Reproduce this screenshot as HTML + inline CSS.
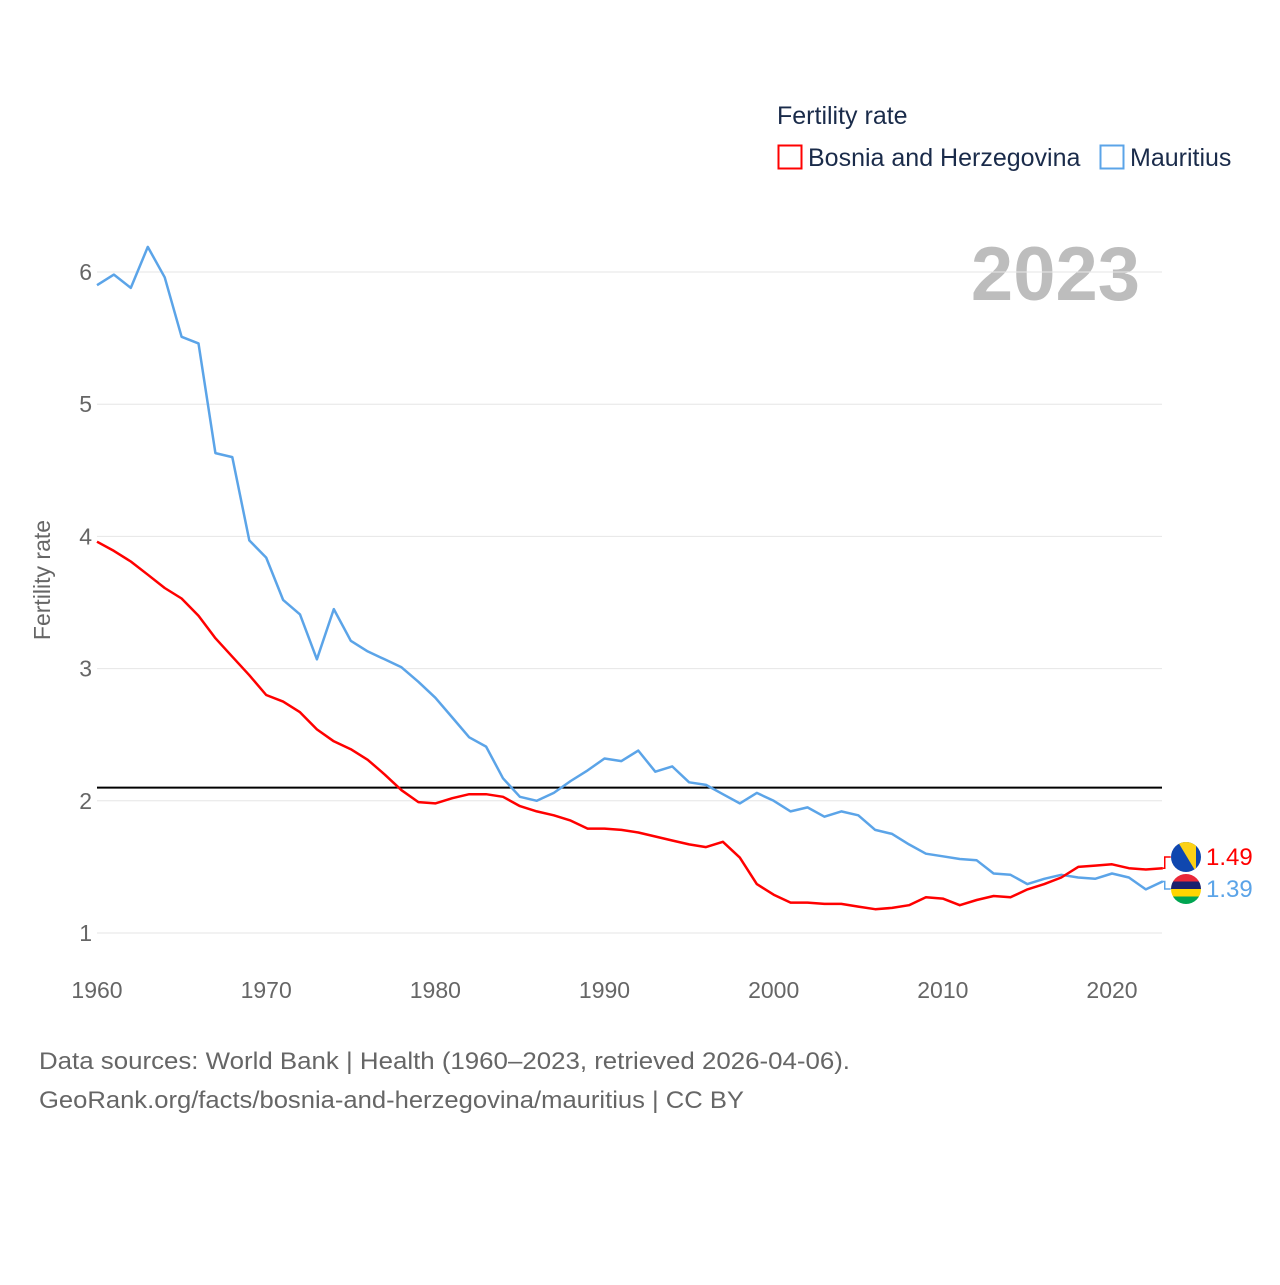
<!DOCTYPE html>
<html><head><meta charset="utf-8"><style>
body{margin:0;background:#fff;font-family:"Liberation Sans",sans-serif;}
svg text{font-family:"Liberation Sans",sans-serif;}
</style></head><body>
<svg id="chart" width="1280" height="1280" viewBox="0 0 1280 1280" xmlns="http://www.w3.org/2000/svg">
<g>
<text x="777" y="124" font-size="25" fill="#1a2b4a">Fertility rate</text>
<rect x="778.5" y="145.5" width="23" height="23" fill="none" stroke="#ff0000" stroke-width="2"/>
<text x="808" y="166" font-size="25" fill="#1a2b4a">Bosnia and Herzegovina</text>
<rect x="1100.5" y="145.5" width="23" height="23" fill="none" stroke="#5ba4e8" stroke-width="2"/>
<text x="1130" y="166" font-size="25" fill="#1a2b4a">Mauritius</text>
</g>
<text x="1140" y="300" font-size="76" font-weight="bold" fill="#bdbdbd" text-anchor="end">2023</text>
<g id="grid"></g>
<g id="yticks"></g>
<g id="xticks"></g>
<text transform="translate(50,580) rotate(-90)" font-size="23" fill="#666" text-anchor="middle">Fertility rate</text>
<g id="series"></g>
<g id="labels"></g>
<text x="39" y="1069" font-size="24" fill="#666" textLength="811" lengthAdjust="spacingAndGlyphs">Data sources: World Bank | Health (1960–2023, retrieved 2026-04-06).</text>
<text x="39" y="1108" font-size="24" fill="#666" textLength="705" lengthAdjust="spacingAndGlyphs">GeoRank.org/facts/bosnia-and-herzegovina/mauritius | CC BY</text>
</svg>
<script>
const startYear = 1960;
const bosnia = [3.96,3.89,3.81,3.71,3.61,3.53,3.40,3.23,3.09,2.95,2.80,2.75,2.67,2.54,2.45,2.39,2.31,2.20,2.08,1.99,1.98,2.02,2.05,2.05,2.03,1.96,1.92,1.89,1.85,1.79,1.79,1.78,1.76,1.73,1.70,1.67,1.65,1.69,1.57,1.37,1.29,1.23,1.23,1.22,1.22,1.20,1.18,1.19,1.21,1.27,1.26,1.21,1.25,1.28,1.27,1.33,1.37,1.42,1.50,1.51,1.52,1.49,1.48,1.49];
const mauritius = [5.90,5.98,5.88,6.19,5.96,5.51,5.46,4.63,4.60,3.97,3.84,3.52,3.41,3.07,3.45,3.21,3.13,3.07,3.01,2.90,2.78,2.63,2.48,2.41,2.17,2.03,2.00,2.06,2.15,2.23,2.32,2.30,2.38,2.22,2.26,2.14,2.12,2.05,1.98,2.06,2.00,1.92,1.95,1.88,1.92,1.89,1.78,1.75,1.67,1.60,1.58,1.56,1.55,1.45,1.44,1.37,1.41,1.44,1.42,1.41,1.45,1.42,1.33,1.39];
const yTicks = [1,2,3,4,5,6];
const xTicks = [1960,1970,1980,1990,2000,2010,2020];
const replacement = 2.1;
const endLabels = ["1.49","1.39"];

const NS="http://www.w3.org/2000/svg";
const x = yr => 97 + (yr-1960)*(1112-97)/60;
const y = v => 933 - (v-1)*(933-272)/5;
function mk(tag, attrs, parent){const e=document.createElementNS(NS,tag);for(const k in attrs)e.setAttribute(k,attrs[k]);parent.appendChild(e);return e;}
const grid=document.getElementById('grid'), yt=document.getElementById('yticks'), xt=document.getElementById('xticks');
yTicks.forEach(t=>{
  const l=mk('line',{x1:97,x2:1162,y1:y(t),y2:y(t),stroke:'#e6e6e6','stroke-width':1},grid);
  
  
  const tx=mk('text',{x:92,y:y(t)+8,'font-size':23,fill:'#666','text-anchor':'end'},yt);
  tx.textContent=t;
  
  
});
xTicks.forEach(t=>{
  const tx=mk('text',{x:x(t),y:998,'font-size':23,fill:'#666','text-anchor':'middle'},xt);
  tx.textContent=t;
  
  
});
const ser=document.getElementById('series');
const rl=mk('line',{x1:97,x2:1162,y1:y(replacement),y2:y(replacement),stroke:'#000','stroke-width':2},ser);


function line(arr,color,name){
  const d=arr.map((v,i)=>(i?'L':'M')+x(startYear+i).toFixed(1)+','+y(v).toFixed(1)).join('');
  const p=mk('path',{d:d,fill:'none',stroke:color,'stroke-width':2.5,'stroke-linejoin':'round'},ser);
  
  
}
line(mauritius,'#5ba4e8','line-mauritius');
line(bosnia,'#ff0000','line-bosnia');
const lab=document.getElementById('labels');
const lastX=x(startYear+bosnia.length-1);
function endLabel(val,txt,color,ly,name,flag){
  const c=mk('path',{d:`M${lastX},${y(val)}H${lastX+2}V${ly}H${lastX+8}`,fill:'none',stroke:color,'stroke-width':1.5},lab);
  
  
  const g=mk('g',{},lab);
  
  
  flag(g,1186,ly);
  const t=mk('text',{x:1206,y:ly+8,'font-size':24,fill:color},lab);
  t.textContent=txt;
  
  
}
function bihFlag(g,cx,cy){
  const id='cb'+cy;
  const cp=mk('clipPath',{id:id},g); mk('circle',{cx:cx,cy:cy,r:15},cp);
  const gg=mk('g',{'clip-path':`url(#${id})`},g);
  mk('rect',{x:cx-15,y:cy-15,width:30,height:30,fill:'#0f47af'},gg);
  mk('polygon',{points:`${cx-8},${cy-15} ${cx+10},${cy-15} ${cx+10},${cy+15}`,fill:'#fcd116'},gg);
}
function muFlag(g,cx,cy){
  const id='cm'+cy;
  const cp=mk('clipPath',{id:id},g); mk('circle',{cx:cx,cy:cy,r:15},cp);
  const gg=mk('g',{'clip-path':`url(#${id})`},g);
  ['#ea2839','#1a206d','#ffd500','#00a551'].forEach((c,i)=>mk('rect',{x:cx-15,y:cy-15+i*7.5,width:30,height:7.5,fill:c},gg));
}
endLabel(bosnia[bosnia.length-1],endLabels[0],'#ff0000',857,'bosnia-label',bihFlag);
endLabel(mauritius[mauritius.length-1],endLabels[1],'#5ba4e8',889,'mauritius-label',muFlag);
</script>
</body></html>
